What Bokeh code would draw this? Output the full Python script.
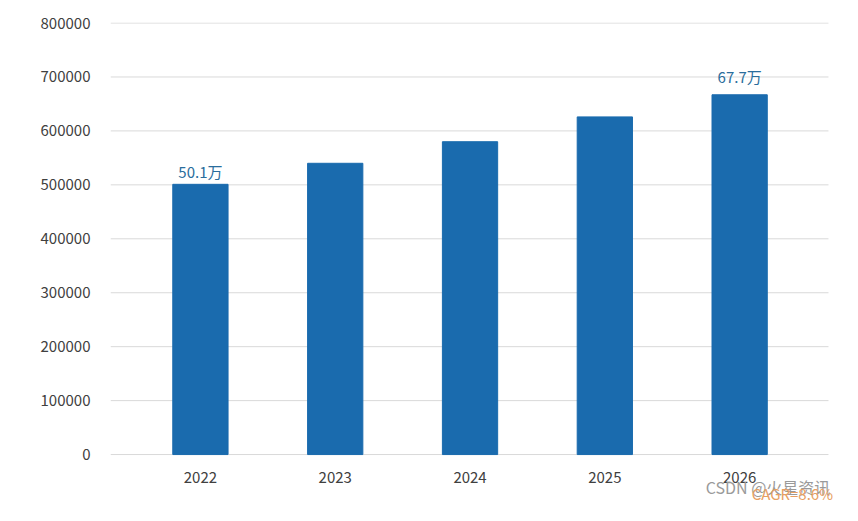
from bokeh.plotting import figure
from bokeh.models import ColumnDataSource, FixedTicker, Range1d
from bokeh.embed import file_html
from bokeh.resources import INLINE
from bokeh.core.properties import value

years = ["2022", "2023", "2024", "2025", "2026"]
values = [501000, 540000, 580000, 626000, 667000]
bar_labels = ["50.1万", "", "", "", "67.7万"]
label_values = [501000, 540000, 580000, 626000, 677000]
y_ticks = [0, 100000, 200000, 300000, 400000, 500000, 600000, 700000, 800000]
watermark = "CSDN @火星资讯"
cagr_text = "CAGR=8.6%"

FONT = "Noto Sans CJK SC"
xs = list(range(len(years)))
X0, X1 = -0.667, 4.659  # extent of the gridlines

src = ColumnDataSource(dict(x=xs, top=values, label=bar_labels, ly=label_values))
cat_src = ColumnDataSource(dict(x=xs, y=[0] * len(xs), label=years))
grid_src = ColumnDataSource(dict(y=y_ticks, x0=[X0] * len(y_ticks), x1=[X1] * len(y_ticks)))

p = figure(width=842, height=505, output_backend="svg", toolbar_location=None,
           x_range=Range1d(X0, 4.763), y_range=Range1d(-94444, 801000),
           min_border_left=110, min_border_right=0, min_border_top=22, min_border_bottom=0)
p.outline_line_color = None
p.background_fill_color = "white"
p.xaxis.visible = False
p.xgrid.grid_line_color = None
p.ygrid.grid_line_color = None

# horizontal gridlines
p.segment(x0="x0", x1="x1", y0="y", y1="y", source=grid_src, line_color="#d9d9d9", line_width=1)

p.vbar(x="x", top="top", bottom=0, width=0.41, source=src, color="#1a6bae")
p.text(x="x", y="ly", text="label", source=src, text_align="center", text_baseline="bottom",
       y_offset=-2, text_font=value(FONT), text_font_size="15px", text_color="#2a6d9c")
# category labels
p.text(x="x", y="y", text="label", source=cat_src, text_align="center", text_baseline="middle",
       y_offset=23, text_font=value(FONT), text_font_size="15px", text_color="#404040")

p.yaxis.ticker = FixedTicker(ticks=y_ticks)
p.yaxis.formatter.use_scientific = False
p.yaxis.major_tick_line_color = None
p.yaxis.minor_tick_line_color = None
p.yaxis.major_label_text_font = FONT
p.yaxis.major_label_text_font_size = "15px"
p.yaxis.major_label_text_color = "#404040"
p.yaxis.axis_line_color = None
p.yaxis.major_label_standoff = 14

p.text(x=[3.748], y=[0], text=[watermark], text_align="left", text_baseline="middle",
       y_offset=32, text_font=value(FONT), text_font_size="16px", text_color="#9a9a9a")
p.text(x=[4.089], y=[0], text=[cagr_text], text_align="left", text_baseline="middle",
       y_offset=39, text_font=value(FONT), text_font_size="15px", text_color="#e8a062")

open("out.html", "w").write(file_html(p, INLINE))
